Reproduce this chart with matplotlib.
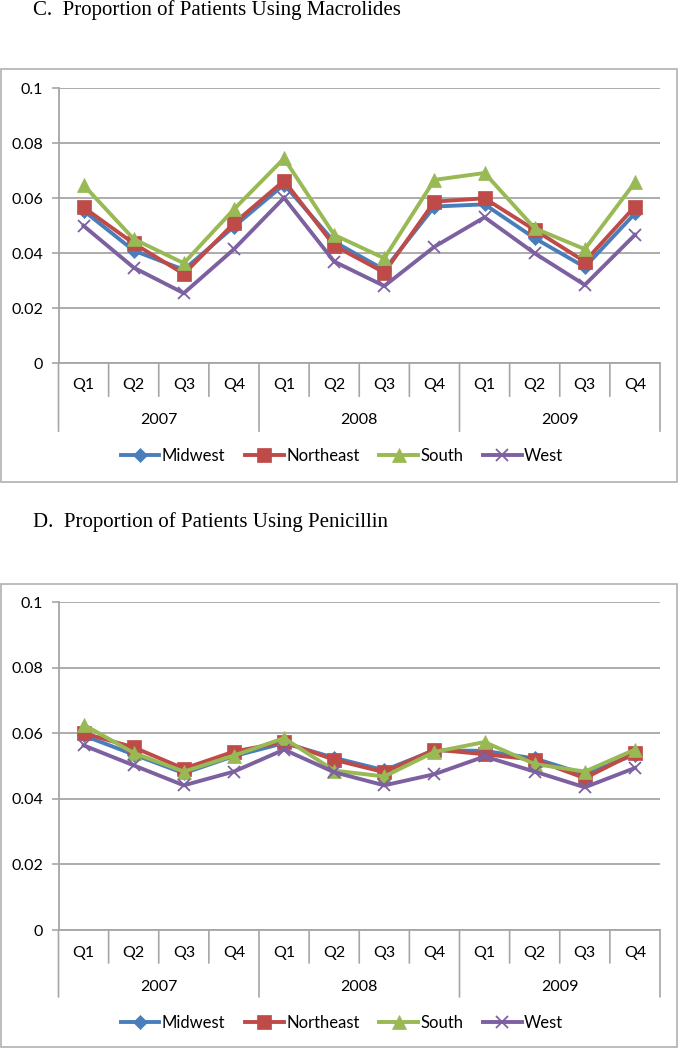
import numpy as np
import matplotlib.pyplot as plt
from matplotlib.patches import Rectangle
from matplotlib.transforms import offset_copy

quarters = ['Q1', 'Q2', 'Q3', 'Q4'] * 3
years = ['2007', '2008', '2009']
regions = ['Midwest', 'Northeast', 'South', 'West']
colors = ['#4A7EBB', '#BE4B48', '#98B954', '#7D60A0']
markers = ['D', 's', '^', 'x']
msizes = [7, 9.5, 9.5, 9]

# C. macrolides
mac_midwest = [0.0555, 0.041, 0.034, 0.0497, 0.065, 0.0442, 0.034, 0.057, 0.0578, 0.0455, 0.035, 0.0545]
mac_northeast = [0.0567, 0.0436, 0.0325, 0.0509, 0.0664, 0.0428, 0.033, 0.0588, 0.060, 0.0485, 0.037, 0.057]
mac_south = [0.0648, 0.0452, 0.0364, 0.056, 0.0745, 0.0467, 0.0382, 0.0667, 0.0692, 0.0491, 0.0415, 0.0658]
mac_west = [0.050, 0.0348, 0.0255, 0.0415, 0.0602, 0.037, 0.0281, 0.0424, 0.0531, 0.040, 0.0285, 0.0467]

# D. penicillin
pen_midwest = [0.0593, 0.0535, 0.0478, 0.053, 0.057, 0.0525, 0.0487, 0.0548, 0.0546, 0.0523, 0.0475, 0.0535]
pen_northeast = [0.060, 0.0557, 0.0492, 0.0544, 0.0573, 0.0519, 0.0481, 0.055, 0.0536, 0.0519, 0.0463, 0.054]
pen_south = [0.0626, 0.054, 0.0483, 0.0532, 0.0585, 0.0486, 0.0468, 0.0543, 0.0573, 0.0506, 0.0483, 0.055]
pen_west = [0.0563, 0.0502, 0.0441, 0.0483, 0.055, 0.0481, 0.0441, 0.0475, 0.0529, 0.0483, 0.0435, 0.0494]

yticks = [0, 0.02, 0.04, 0.06, 0.08, 0.1]
ytick_labels = ['0', '0.02', '0.04', '0.06', '0.08', '0.1']

GRID = '#a6a6a6'
SANS = ['Lato', 'DejaVu Sans']
W, H = 680, 1050

fig = plt.figure(figsize=(6.8, 10.5), dpi=100)


def fx(px):
    return px / W


def fy(py):
    return 1 - py / H


def panel(rect, series, title, title_y, box, qoff, yoff, qlen, ylen, leg_y):
    # outer chart frame
    fig.patches.append(Rectangle((fx(box[0]), fy(box[3])), fx(box[2] - box[0]), (box[3] - box[1]) / H,
                                 transform=fig.transFigure, fill=False, ec='#b0b0b0', lw=1.2))
    fig.text(fx(33), fy(title_y), title, family='Liberation Serif', fontsize=15, va='center', ha='left')

    ax = fig.add_axes(rect)
    x = np.arange(len(quarters))
    handles = []
    for vals, name, c, m, ms in zip(series, regions, colors, markers, msizes):
        h, = ax.plot(x, vals, color=c, lw=2.8, marker=m, ms=ms, mew=1.3 if m == 'x' else 0.5,
                     mec=c, mfc=c, label=name, solid_joinstyle='miter', zorder=3)
        handles.append(h)

    ax.set_xlim(-0.5, len(quarters) - 0.5)
    ax.set_ylim(0, 0.1)
    ax.set_yticks(yticks, ytick_labels)
    ax.set_xticks([])
    ax.grid(axis='y', color=GRID, lw=1.3)
    ax.set_axisbelow(True)
    for s in ['top', 'right']:
        ax.spines[s].set_visible(False)
    for s in ['left', 'bottom']:
        ax.spines[s].set_color(GRID)
        ax.spines[s].set_linewidth(1.3)
    ax.tick_params(axis='y', length=5, width=1.2, color=GRID, pad=6, labelsize=11.5)
    for lab in ax.get_yticklabels():
        lab.set_family(SANS)

    # multi-level category axis
    base = ax.get_xaxis_transform()
    t_q = offset_copy(base, fig=fig, y=-qoff, units='dots')
    t_y = offset_copy(base, fig=fig, y=-yoff, units='dots')
    for i, q in enumerate(quarters):
        ax.text(i, 0, q, transform=t_q, ha='center', va='center', fontsize=11.5, family=SANS)
    for j, yr in enumerate(years):
        ax.text(4 * j + 1.5, 0, yr, transform=t_y, ha='center', va='center', fontsize=11.5, family=SANS)
    for k in range(len(quarters) + 1):
        xb = k - 0.5
        length = ylen if k % 4 == 0 else qlen
        t_end = offset_copy(base, fig=fig, y=-length, units='dots')
        ax.annotate('', xy=(xb, 0), xycoords=t_end, xytext=(xb, 0), textcoords=base,
                    arrowprops=dict(arrowstyle='-', color=GRID, lw=1.2, shrinkA=0, shrinkB=0),
                    annotation_clip=False)

    fig.legend(handles=handles, loc='center', bbox_to_anchor=(0.503, fy(leg_y)), ncol=4, frameon=False,
               prop={'family': SANS, 'size': 12}, handlelength=2.3, handletextpad=0.15, columnspacing=1.2)
    return ax


left = fx(58.5)
width = (660 - 58.5) / W

panel([left, fy(363.3), width, (363.3 - 88.3) / H],
      [mac_midwest, mac_northeast, mac_south, mac_west],
      'C.  Proportion of Patients Using Macrolides', 10,
      (1, 69, 677, 482), 22, 57, 33, 68, 456)

panel([left, fy(930), width, (930 - 602) / H],
      [pen_midwest, pen_northeast, pen_south, pen_west],
      'D.  Proportion of Patients Using Penicillin', 522,
      (1, 584, 677, 1047), 23, 57, 33, 67, 1022.7)

fig.savefig('out.png', dpi=100)
